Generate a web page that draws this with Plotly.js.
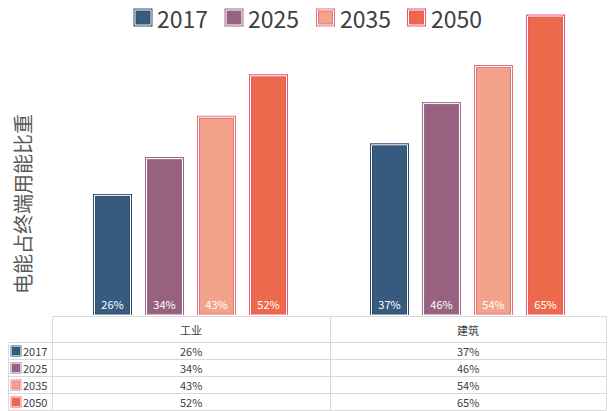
<!DOCTYPE html>
<html><head><meta charset="utf-8">
<script src="https://cdn.plot.ly/plotly-3.0.1.min.js"></script>
<style>body{margin:0;padding:0;background:#fff}#chart{width:608px;height:411px}</style>
</head><body><div id="chart"></div>
<script>
const categories = ['工业', '建筑'];
const years = ['2017', '2025', '2035', '2050'];
const v2017 = [26, 37];
const v2025 = [34, 46];
const v2035 = [43, 54];
const v2050 = [52, 65];
const seriesValues = [v2017, v2025, v2035, v2050];
const fillColors = ['#375a7f', '#97627f', '#f4a38b', '#ec6a4b'];
const lineColors = ['#2f4f70', '#9c6a88', '#e07282', '#e8576b'];
const yTitle = '电能占终端用能比重';

const W = 608, H = 411;
const M = {l: 52, r: 2, t: 10, b: 96};
const PW = W - M.l - M.r, PH = H - M.t - M.b;
const px = x => (x - M.l) / PW;
const py = y => (H - M.b - y) / PH;

const barW = 0.13;
const centers = [-0.2816, -0.0939, 0.0939, 0.2816];
const FONT = 'Noto Sans CJK SC, sans-serif';

const traces = [];
years.forEach((yr, i) => {
  traces.push({
    type: 'bar', name: yr, x: categories, y: seriesValues[i],
    width: barW, offset: centers[i] - barW / 2, showlegend: false,
    marker: {color: fillColors[i], line: {color: lineColors[i], width: 3}},
    text: seriesValues[i].map(v => v + '%'), textposition: 'inside',
    insidetextanchor: 'start', textangle: 0,
    textfont: {color: '#ffffff', size: 11, family: FONT},
    hoverinfo: 'skip'
  });
});
years.forEach((yr, i) => {
  traces.push({
    type: 'bar', name: yr, x: categories, y: seriesValues[i],
    width: barW, offset: centers[i] - barW / 2, showlegend: false,
    marker: {color: 'rgba(0,0,0,0)', line: {color: '#ffffff', width: 1}},
    hoverinfo: 'skip'
  });
});

const gridColor = '#d9d9d9';
const shapes = [];
const annotations = [];
const txtColor = '#404040';
const hline = (x0, x1, y) => shapes.push({type: 'line', xref: 'paper', yref: 'paper',
  x0: px(x0), x1: px(x1), y0: py(y), y1: py(y), line: {color: gridColor, width: 1}});
const vline = (x, y0, y1) => shapes.push({type: 'line', xref: 'paper', yref: 'paper',
  x0: px(x), x1: px(x), y0: py(y0), y1: py(y1), line: {color: gridColor, width: 1}});
const keyIcon = (x0, y0, x1, y1, i, lw) => {
  shapes.push({type: 'rect', xref: 'paper', yref: 'paper', x0: px(x0), x1: px(x1),
    y0: py(y1), y1: py(y0), fillcolor: fillColors[i], line: {color: lineColors[i], width: lw}});
  shapes.push({type: 'rect', xref: 'paper', yref: 'paper', x0: px(x0), x1: px(x1),
    y0: py(y1), y1: py(y0), fillcolor: 'rgba(0,0,0,0)', line: {color: '#ffffff', width: lw / 3}});
};

// custom legend at top
const legendX = [135, 226, 317.5, 408.5];
years.forEach((yr, i) => {
  keyIcon(legendX[i], 10, legendX[i] + 16, 25, i, 3);
  annotations.push({xref: 'paper', yref: 'paper', x: px(legendX[i] + 20), y: py(17.5),
    xanchor: 'left', yanchor: 'middle', text: yr, showarrow: false,
    font: {size: 23, color: txtColor, family: FONT}});
});

// data table
const headerTop = 316.5, headerBot = 342.5, rowH = 17, tableLeft = 8.5, rightEdge = 606.5;
hline(52.5, rightEdge, headerTop);
for (let r = 0; r <= years.length; r++) hline(tableLeft, rightEdge, headerBot + r * rowH);
const tableBot = headerBot + years.length * rowH;
vline(52.5, headerTop, tableBot);
vline(330.5, headerTop, tableBot);
vline(rightEdge, headerTop, tableBot);
vline(tableLeft, headerBot, tableBot);

categories.forEach((c, j) => {
  annotations.push({xref: 'x', yref: 'paper', x: c, y: py((headerTop + headerBot) / 2),
    text: c, showarrow: false, font: {size: 11, color: txtColor, family: FONT}, yanchor: 'middle'});
});
years.forEach((yr, i) => {
  const yc = headerBot + i * rowH + rowH / 2;
  keyIcon(11.5, yc - 4.5, 20.5, yc + 4.5, i, 1.8);
  annotations.push({xref: 'paper', yref: 'paper', x: px(21), y: py(yc), xanchor: 'left', yanchor: 'middle',
    text: yr, showarrow: false, font: {size: 11, color: txtColor, family: FONT}});
  categories.forEach((c, j) => {
    annotations.push({xref: 'x', yref: 'paper', x: c, y: py(yc), yanchor: 'middle',
      text: seriesValues[i][j] + '%', showarrow: false, font: {size: 11, color: txtColor, family: FONT}});
  });
});
annotations.push({xref: 'paper', yref: 'paper', x: px(22), y: py(204), textangle: -90,
  text: yTitle, showarrow: false, font: {size: 20, color: '#595959', family: FONT},
  xanchor: 'center', yanchor: 'middle'});

const layout = {
  width: W, height: H, margin: M, paper_bgcolor: '#ffffff', plot_bgcolor: '#ffffff',
  barmode: 'overlay', showlegend: false,
  font: {family: FONT, color: txtColor},
  xaxis: {type: 'category', range: [-0.5, 1.5], showticklabels: false, showgrid: false,
    zeroline: false, showline: false, ticks: ''},
  yaxis: {range: [0, PH / 4.6], showticklabels: false, showgrid: false, zeroline: false,
    showline: false, ticks: ''},
  shapes: shapes, annotations: annotations
};
Plotly.newPlot('chart', traces, layout, {displayModeBar: false, staticPlot: true});
</script></body></html>
